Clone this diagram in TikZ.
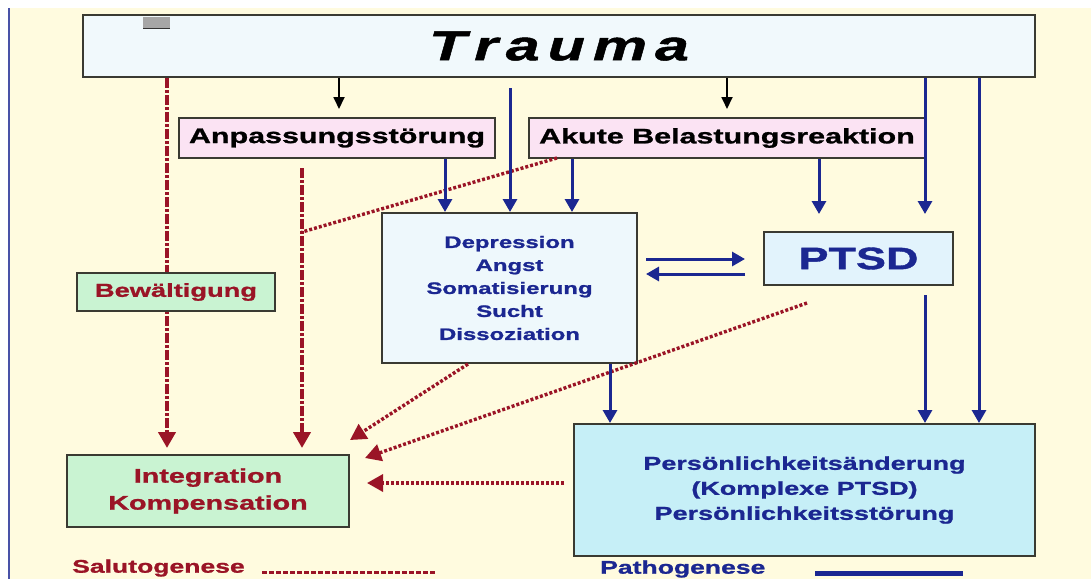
\documentclass[tikz,border=0pt]{standalone}
\usepackage{fontspec}
\newfontfamily\heavy[FakeStretch=1.45, FakeBold=1.2,
  BoldFont={Liberation Sans Bold}, ItalicFont={Liberation Sans Bold Italic},
  BoldItalicFont={Liberation Sans Bold Italic}]{Liberation Sans Bold}
\usetikzlibrary{arrows.meta}
\definecolor{paper}{HTML}{FFFBDF}
\definecolor{navy}{HTML}{1B2791}
\definecolor{wine}{HTML}{9A1426}
\definecolor{frame}{HTML}{3A3A32}
\definecolor{traumafill}{HTML}{F1F9FC}
\definecolor{pinkfill}{HTML}{FBE3F3}
\definecolor{icefill}{HTML}{EEF8FC}
\definecolor{skyfill}{HTML}{E2F3FC}
\definecolor{cyanfill}{HTML}{C6EFF7}
\definecolor{mintfill}{HTML}{C9F3D2}
\tikzset{
  box/.style={draw=frame, line width=2pt, inner sep=0pt, align=center},
  bluearrow/.style={navy, line width=3pt, -{Triangle[width=14pt,length=13pt]}},
  blackarrow/.style={black, line width=1.8pt, -{Triangle[width=11pt,length=12pt]}},
  redchain/.style={wine, line width=4.5pt, dash pattern=on 10pt off 2pt on 3pt off 2pt},
  reddots/.style={wine, line width=3.4pt, dash pattern=on 3pt off 2pt},
  redhead/.style={-{Triangle[width=17pt,length=16pt]}}
}
\begin{document}
\begin{tikzpicture}[x=1pt,y=-1pt]
\useasboundingbox (0,0) rectangle (1091,579);
\clip (0,0) rectangle (1091,579);
% page background and left rule
\fill[white] (0,0) rectangle (1091,579);
\fill[paper] (9,8) rectangle (1091,579);
\draw[navy!80, line width=2pt] (9,8) -- (9,579);

% x positions of the vertical connectors
\coordinate (x167) at (167,0);
\coordinate (x302) at (302,0);
\coordinate (x339) at (339,0);
\coordinate (x445) at (445,0);
\coordinate (x510) at (510,0);
\coordinate (x572) at (572,0);
\coordinate (x610) at (610,0);
\coordinate (x727) at (727,0);
\coordinate (x819) at (819,0);
\coordinate (x925) at (925,0);
\coordinate (x979) at (979,0);

% boxes
\node[box, fill=traumafill, minimum width=952pt, minimum height=62pt,
      font=\heavy\itshape\fontsize{42}{42}\selectfont]
      (trauma) at (559,46) {\spaceskip=8pt T r a u m a};
\fill[gray!70] (143,17) rectangle (170,28);
\draw[black!80, line width=1pt] (143,28) -- (170,28);

\node[box, fill=pinkfill, minimum width=316pt, minimum height=40pt,
      font=\heavy\fontsize{21}{21}\selectfont]
      (anp) at (337,138) {Anpassungsstörung};
\node[box, fill=pinkfill, minimum width=396pt, minimum height=40pt,
      font=\heavy\fontsize{21}{21}\selectfont]
      (akute) at (727,138) {Akute Belastungsreaktion};

\node[box, fill=icefill, minimum width=255pt, minimum height=150pt, text=navy,
      font=\heavy\fontsize{16.5}{23}\selectfont]
      (dep) at (509.5,288) {Depression\\Angst\\Somatisierung\\Sucht\\Dissoziation};
\node[box, fill=skyfill, minimum width=189pt, minimum height=53pt, text=navy,
      font=\heavy\fontsize{31}{31}\selectfont]
      (ptsd) at (858.5,258.5) {PTSD};
\node[box, fill=cyanfill, minimum width=461pt, minimum height=132pt, text=navy,
      font=\heavy\fontsize{18.6}{25}\selectfont]
      (pers) at (804.5,490) {Persönlichkeitsänderung\\(Komplexe PTSD)\\Persönlichkeitsstörung};

% salutogenetic paths (drawn before the green boxes)
\draw[redchain, redhead] (trauma.south -| x167) -- (167,448) coordinate (r1end);
\draw[redchain, redhead] ([yshift=-9pt]anp.south -| x302) -- (302,448) coordinate (r2end);
\coordinate (akuteleft) at (557,158);
\coordinate (chainhit) at (302,232);
\draw[reddots] (akuteleft) -- (chainhit);
\coordinate (depfoot) at (468,364);
\coordinate (tipA) at (350,440);
\draw[reddots, redhead] (depfoot) -- (tipA);
\coordinate (ptsdfoot) at (807,303);
\coordinate (tipB) at (365,458);
\draw[reddots, redhead] (ptsdfoot) -- (tipB);
\coordinate (persleft) at (564,483);
\coordinate (tipC) at (367,483);
\draw[reddots, redhead] (persleft) -- (tipC);

\node[box, fill=mintfill, minimum width=198pt, minimum height=38pt, text=wine,
      font=\heavy\fontsize{18.8}{18.8}\selectfont]
      (bew) at (176,292) {Bewältigung};
\node[box, fill=mintfill, minimum width=282pt, minimum height=72pt, text=wine,
      font=\heavy\fontsize{19.8}{27}\selectfont]
      (integ) at (208,491) {Integration\\Kompensation};

% pathogenetic paths
\draw[blackarrow] (trauma.south -| x339) -- ([yshift=8pt]anp.north -| x339);
\draw[blackarrow] (trauma.south -| x727) -- ([yshift=8pt]akute.north -| x727);
\draw[bluearrow] (anp.south -| x445) -- (dep.north -| x445);
\draw[bluearrow] ([yshift=-10pt]trauma.south -| x510) -- (dep.north -| x510);
\draw[bluearrow] (akute.south -| x572) -- (dep.north -| x572);
\draw[bluearrow] (akute.south -| x819) -- ([yshift=17pt]ptsd.north -| x819);
\draw[bluearrow] (trauma.south -| x925) -- ([yshift=17pt]ptsd.north -| x925);
\draw[bluearrow] (trauma.south -| x979) -- (pers.north -| x979);
\draw[bluearrow] ([yshift=-9pt]ptsd.south -| x925) -- (pers.north -| x925);
\draw[bluearrow] (dep.south -| x610) -- (pers.north -| x610);
% exchange between the symptom box and PTSD
\coordinate (yhigh) at (0,259);
\coordinate (ylow) at (0,274);
\draw[bluearrow] ([xshift=8pt]dep.east |- yhigh) -- ([xshift=-18pt]ptsd.west |- yhigh);
\draw[bluearrow] ([xshift=-18pt]ptsd.west |- ylow) -- ([xshift=8pt]dep.east |- ylow);

% legend
\node[anchor=west, inner sep=0pt, text=wine,
      font=\heavy\fontsize{18.3}{18.3}\selectfont] (salu) at (72,568) {Salutogenese};
\coordinate (saluA) at (262,572);
\coordinate (saluB) at (435,572);
\draw[wine, line width=3pt, dash pattern=on 5pt off 2pt] (saluA) -- (saluB);
\node[anchor=west, inner sep=0pt, text=navy,
      font=\heavy\fontsize{18.3}{18.3}\selectfont] (patho) at (600,569) {Pathogenese};
\coordinate (pathoA) at (815,573);
\coordinate (pathoB) at (963,573);
\draw[navy, line width=5pt] (pathoA) -- (pathoB);
\end{tikzpicture}
\end{document}
